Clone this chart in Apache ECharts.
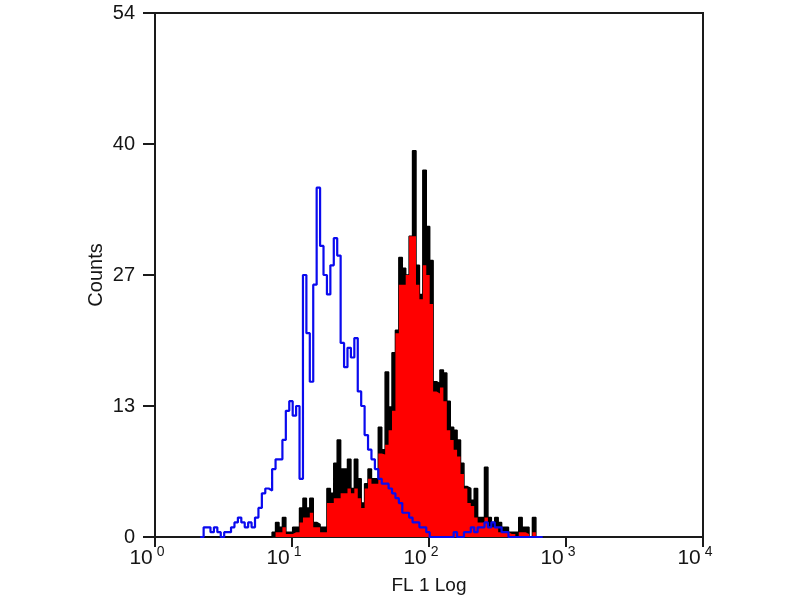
<!DOCTYPE html>
<html><head><meta charset="utf-8">
<script src="https://cdn.jsdelivr.net/npm/echarts@6/dist/echarts.min.js"></script>
<style>html,body{margin:0;padding:0;background:#fff}#c{width:800px;height:600px}</style>
</head><body><div id="c"></div>
<script>
// Histogram channels: bin i starts at decade position binStart + i*binWidth
const binStart = 0.33;
const binWidth = 0.025;

// Blue open histogram (control)
const blueCounts = [0,1,1,0.5,1,0.5,0,0.5,0.5,1, 1.5,2,1.5,1,1.5,1,2,3,4.5,5, 4.8,7,8,8,10,13,14,12.5,13.5,6, 27,21,16,26,36,30,27,25,28,30.8, 29,20,17.5,19.5,18.5,20.5,15,13.5,10.5,9, 8,7,6,5.5,5.5,5,4.5,4,3.5,2.5, 2.5,2,1.5,1.5,1,1,0.5,0,0,0, 0,0,0,0,0.5,0,0,0.5,0.5,1, 0.5,1,1,1.5,1,1.5,1,1,0.5,0.5, 0,0,0,0,0,0,0,0,0,0];

// Black outline histogram (stained, raw)
const blackCounts = [0,0,0,0,0,0,0,0,0,0, 0,0,0,0,0,0,0,0,0,0, 0,0.5,1.5,1,2,0.5,0.5,1,1,3, 4,3,4,1.5,1.3,1,1,5,4.5,7.6, 10,7,7,8,5,8,6,3.5,5.5,7, 6,6,11.3,9,17,13.4,19,21.3,28.8,27.7, 27,31,39.8,28,25,37.8,32,28.5,16,15.8, 17.2,16.9,14,11.3,11,10,7.6,5.2,5,3.8, 5,2,2,7.2,2,1.5,2,1.5,1,1, 0.5,0.5,0.5,2,1,1,0,2,0,0];

// Red filled histogram (stained)
const redCounts = [0,0,0,0,0,0,0,0,0,0, 0,0,0,0,0,0,0,0,0,0, 0,0,0.5,0.5,1,0.3,0.3,0.5,0.5,1.5, 2,2,2.5,1,1,0.5,0.5,3.5,3.5,4, 4,4.5,4.5,5,4.5,5,4,3,5,6, 5.5,5.5,8.6,8.5,9.5,11,13,21,26,26, 27,31,31,26,24.5,28,27,24,15,14.8, 15.4,14,11,10,9,8.3,6.5,5,3.5,3.2, 2,1.5,1.5,2,1,1,1,0.5,0.5,0.5, 0.3,0.3,0,0.5,0.5,0.3,0,0.5,0,0];

const xTicks = [0,1,2,3,4];
const xTickExponents = ['0','1','2','3','4'];
const yTicks = [0,13.5,27,40.5,54];
const yTickLabels = ['0','13','27','40','54'];
const xTitle = 'FL 1 Log';
const yTitle = 'Counts';

function toPairs(arr){
  const out = arr.map((v,i)=>[binStart + i*binWidth, v]);
  out.push([binStart + arr.length*binWidth, 0]);
  return out;
}

const chart = echarts.init(document.getElementById('c'));
const font = 'Liberation Sans, Arial, sans-serif';
const txt = '#151515';
chart.setOption({
  animation:false,
  backgroundColor:'#fff',
  grid:{left:155,right:97,top:13,bottom:63,outerBoundsMode:'none',containLabel:false,
        show:true,borderColor:'#1a1a1a',borderWidth:2,backgroundColor:'transparent'},
  xAxis:{
    type:'value',min:xTicks[0],max:xTicks[xTicks.length-1],interval:1,
    name:xTitle,nameLocation:'middle',nameGap:39,nameMoveOverlap:false,
    nameTextStyle:{fontFamily:font,fontSize:19,color:txt},
    axisLine:{show:true,onZero:false,lineStyle:{color:'#1a1a1a',width:2}},
    axisTick:{show:true,inside:false,length:10,lineStyle:{color:'#1a1a1a',width:2}},
    splitLine:{show:false},
    axisLabel:{margin:8,formatter:(v)=>{const k=xTicks.indexOf(v);return '{b|10}{s|'+(k>=0?xTickExponents[k]:'')+'}';},
      rich:{b:{fontFamily:font,fontSize:21,color:txt,lineHeight:22},s:{fontFamily:font,fontSize:14,color:txt,padding:[0,16,12,4]}}}
  },
  yAxis:{
    type:'value',min:yTicks[0],max:yTicks[yTicks.length-1],interval:13.5,
    name:yTitle,nameLocation:'middle',nameGap:49,nameRotate:90,nameMoveOverlap:false,
    nameTextStyle:{fontFamily:font,fontSize:20,color:txt},
    axisLine:{show:true,lineStyle:{color:'#1a1a1a',width:2}},
    axisTick:{show:true,inside:false,length:12,lineStyle:{color:'#1a1a1a',width:2}},
    splitLine:{show:false},
    axisLabel:{margin:20,fontFamily:font,fontSize:20,color:txt,
      formatter:(v)=>{const k=yTicks.indexOf(v);return k>=0?yTickLabels[k]:'';}}
  },
  series:[
    {type:'line',step:'end',data:toPairs(blackCounts),symbol:'none',z:2,
     lineStyle:{color:'#000',width:1.5},areaStyle:{color:'#000',opacity:1}},
    {type:'line',step:'end',data:toPairs(redCounts),symbol:'none',z:3,
     lineStyle:{color:'#ff0000',width:0},areaStyle:{color:'#ff0000',opacity:1}},
    {type:'line',step:'end',data:toPairs(blueCounts),symbol:'none',z:4,
     lineStyle:{color:'#0a0aee',width:2.2}}
  ]
});
</script></body></html>
